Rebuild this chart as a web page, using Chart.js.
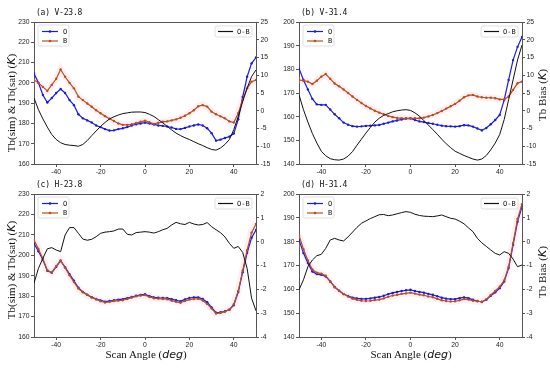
<!DOCTYPE html>
<html>
<head>
<meta charset="utf-8">
<script src="https://cdn.jsdelivr.net/npm/chart.js@4.4.1/dist/chart.umd.min.js"></script>
<style>
  html, body { margin:0; padding:0; background:#fff; }
  #wrap { position:relative; width:550px; height:369px; overflow:hidden; background:#fff; }
  canvas { position:absolute; }
  .ptitle { position:absolute; font-family:'DejaVu Sans Mono', monospace; font-size:8px; color:#111; white-space:nowrap; letter-spacing:-0.2px; }
  .yt { position:absolute; font-family:'Liberation Serif', serif; font-size:11px; color:#111; white-space:nowrap; transform:translate(-50%,-50%) rotate(-90deg); }
  .xt { position:absolute; font-family:'Liberation Serif', serif; font-size:11px; color:#111; white-space:nowrap; transform:translate(-50%,-50%); }
  .m { font-family:'DejaVu Sans', sans-serif; font-style:italic; }
</style>
</head>
<body>
<div id="wrap">
  <canvas id="ca" width="275" height="183" style="left:0px;top:0px"></canvas>
  <canvas id="cb" width="275" height="183" style="left:275px;top:0px"></canvas>
  <canvas id="cc" width="275" height="184" style="left:0px;top:185px"></canvas>
  <canvas id="cd" width="275" height="184" style="left:275px;top:185px"></canvas>
  <div class="ptitle" style="left:36px;top:8px">(a) V-23.8</div>
  <div class="ptitle" style="left:301px;top:8px">(b) V-31.4</div>
  <div class="ptitle" style="left:36px;top:180px">(c) H-23.8</div>
  <div class="ptitle" style="left:301px;top:180px">(d) H-31.4</div>
  <div class="yt" style="left:11px;top:103px">Tb(sim) &amp; Tb(sat) (<span class="m">K</span>)</div>
  <div class="yt" style="left:11px;top:270px">Tb(sim) &amp; Tb(sat) (<span class="m">K</span>)</div>
  <div class="yt" style="left:542px;top:95px">Tb Bias (<span class="m">K</span>)</div>
  <div class="yt" style="left:542px;top:272px">Tb Bias (<span class="m">K</span>)</div>
  <div class="xt" style="left:146px;top:354px">Scan Angle (<span class="m">deg</span>)</div>
  <div class="xt" style="left:411px;top:354px">Scan Angle (<span class="m">deg</span>)</div>
</div>
<script>
// ---------------- DATA ----------------
const ANGLES = [-50,-48,-46,-44,-42,-40,-38,-36,-34,-32,-30,-28,-26,-24,-22,-20,-18,-16,-14,-12,-10,-8,-6,-4,-2,0,2,4,6,8,10,12,14,16,18,20,22,24,26,28,30,32,34,36,38,40,42,44,46,48,50];
const X_TICKS = [-40,-20,0,20,40];

// (a) V-23.8
const A_O  = [204.6,200,194,190.3,192.5,195,197,195,191.5,189,184.5,182.5,181.5,180.5,179,178.2,177.2,176.5,176.6,177.2,177.6,178.2,179,179.6,180,180.4,180,179.5,179,178.8,178.5,178,177.3,177.2,177.8,178.5,179,179.5,179,177.6,175.2,171.5,172,172.8,173.5,175,182,193,203,209.6,212.5];
const A_B  = [201.4,200,198,196,199,202,206.6,203,200,197.3,193.2,191.5,189.8,188.2,186.5,185,183.6,182.3,181.2,180,179.3,179.3,179.6,180.2,180.8,181.4,180.6,179.8,180.3,180.8,181,181.5,182,182.8,183.8,185,186.5,188.5,189,188.3,185.8,184.5,183.5,182.5,181,180.4,185,191.6,197.3,200.6,201.4];
const A_OB = [3.6,0.3,-2.3,-4.6,-6.7,-8.1,-9,-9.5,-9.7,-9.8,-10,-9.5,-8.4,-7,-5.7,-4.4,-3.3,-2.3,-1.7,-1.2,-0.8,-0.6,-0.4,-0.35,-0.35,-0.5,-1,-1.6,-2.5,-3.4,-4.4,-5.4,-6.3,-7,-7.6,-8.1,-8.7,-9.3,-9.8,-10.4,-10.9,-11.1,-10.5,-9.5,-8.1,-5.3,-1.6,2.6,6.4,9.6,11.5];

// (b) V-31.4
const B_O  = [180.4,175.5,171.5,167.5,165.2,165,165,163,161,159.3,157.5,156.6,156,155.8,155.9,156.1,156.2,156.3,156.5,157,157.5,158,158.4,158.8,159.2,159.3,158.6,158,157.7,157.3,157,156.6,156.2,156,155.9,155.8,156,156.4,156.3,155.8,155,154.2,155.2,156.8,158.6,160.7,167,175.5,183.9,189.5,193.7];
const B_B  = [175.5,175.2,174.8,173.8,175.2,176.9,178,176,174,172.8,171.5,170,168.5,167.1,165.8,164.5,163.5,162.5,161.7,161,160.3,159.8,159.5,159.3,159.3,159.3,159.3,159.3,159.6,160.1,160.7,161.5,162.4,163.4,164.4,165.4,166.7,168.2,169,169.2,168.5,168.2,168,168,167.8,167.3,167.3,168.5,171.3,174.1,174.8];
const B_OB = [4.5,0.3,-3.2,-6.4,-9.1,-11.4,-12.7,-13.5,-13.8,-13.9,-13.6,-12.8,-11.5,-9.7,-8,-6.3,-4.7,-3.2,-2.1,-1.3,-0.8,-0.3,0,0.2,0.3,0.1,-0.6,-1.5,-2.8,-4,-5.3,-6.6,-8,-9.3,-10.4,-11.4,-12,-12.6,-13.1,-13.6,-13.9,-13.6,-12.6,-11,-9.1,-6.7,-2.5,3.1,8.7,14.3,18.5];

// (c) H-23.8
const C_O  = [205.8,202,197.8,192.4,191.4,194.4,197.2,194.2,190.8,187.5,184.1,182.1,180.7,179.5,178.6,177.9,177.3,177.6,178,178.3,178.5,179,179.6,180.2,180.6,180.9,180,179.4,179.2,179.1,179,178.5,178,177.5,178.4,179.1,179.4,179.4,178.6,177,174.5,171.9,172.1,172.6,173.4,175.6,182,191.7,201.2,208.6,212.4];
const C_B  = [207.5,203.1,198.3,192.7,191.6,194.7,197.5,193.9,190.2,186.9,183.7,181.9,180.6,179.3,178.4,177.5,176.9,177.2,177.6,177.8,178,178.6,179.3,179.9,180.3,180.5,179.6,179,178.8,178.6,178.5,177.8,177.2,176.8,177.6,178.3,178.6,178.7,177.9,176.2,173.9,171.5,171.8,172.4,173.4,176,182.5,192.5,202.5,211,215.3];
const C_OB = [-1.74,-1.12,-0.7,-0.3,-0.25,-0.35,-0.42,0.28,0.59,0.59,0.35,0.11,0.06,0.1,0.21,0.35,0.4,0.42,0.45,0.53,0.53,0.31,0.28,0.38,0.4,0.42,0.4,0.36,0.42,0.5,0.56,0.7,0.81,0.75,0.72,0.81,0.74,0.7,0.72,0.8,0.63,0.5,0.38,0.2,-0.07,-0.28,-0.2,-0.45,-1.12,-2.37,-2.9];

// (d) H-31.4
const D_O  = [180.7,175.2,171,167.5,166.4,166.1,165.4,163.3,161,159.4,158,157.2,156.5,156.2,156,156,156.2,156.5,156.8,157.3,158,158.5,158.9,159.3,159.6,159.8,159.3,158.9,158.6,158.1,157.7,157.1,156.5,156.1,155.9,155.9,156.3,156.6,156.3,155.6,155.1,154.7,155.6,157.3,158.8,160.5,163.3,168.9,178.7,188.4,194.7];
const D_B  = [182.7,176.8,172.1,168.3,167,166.6,165.7,163.2,160.9,159.3,158,157,156.1,155.6,155.2,155.1,155.2,155.5,155.7,156.2,156.9,157.4,157.7,158.1,158.3,158.6,158.2,157.8,157.5,157,156.7,156,155.4,155.1,154.9,155,155.4,155.9,155.7,155.2,155,154.8,155.8,157.6,159.3,161.1,163.7,169.4,179.4,189.5,195.7];
const D_OB = [-2.02,-1.6,-1.05,-0.77,-0.59,-0.53,-0.28,0.07,0.14,0.07,0.03,0.2,0.4,0.6,0.77,0.87,0.97,1.05,1.13,1.14,1.09,1.12,1.17,1.22,1.26,1.23,1.15,1.1,1.07,1.06,1.05,1.08,1.12,1.05,0.98,0.95,0.86,0.75,0.58,0.42,0.14,-0.05,-0.2,-0.35,-0.49,-0.56,-0.42,-0.49,-0.73,-1.05,-0.98];

const SERIES_LABELS = ['O', 'B', 'O-B'];

// ---------------- STYLE ----------------
const COL_O = '#1a1ae6';
const COL_B = '#b4521e';
const COL_OB = '#111111';
const AXC = '#555555';
const TICK_FONT = { family: 'Liberation Sans', size: 6.8 };

function pts(arr) { return ANGLES.map((x, i) => ({ x: x, y: arr[i] })); }

const framePlugin = {
  id: 'frame',
  afterDraw(chart) {
    const ca = chart.chartArea, ctx = chart.ctx;
    ctx.save();
    ctx.strokeStyle = AXC; ctx.lineWidth = 1;
    ctx.beginPath();
    ctx.moveTo(Math.round(ca.left) - 0.5, Math.round(ca.top) + 0.5);
    ctx.lineTo(Math.round(ca.right) + 0.5, Math.round(ca.top) + 0.5);
    ctx.stroke();
    function box(x, y, w, h) {
      ctx.beginPath();
      if (ctx.roundRect) ctx.roundRect(x, y, w, h, 2); else ctx.rect(x, y, w, h);
      ctx.fillStyle = 'rgba(255,255,255,0.85)'; ctx.fill();
      ctx.strokeStyle = '#d8d8d8'; ctx.lineWidth = 0.8; ctx.stroke();
    }
    ctx.font = '7px "DejaVu Sans Mono"';
    ctx.textBaseline = 'middle';
    const lx = ca.left + 4, ly = ca.top + 3;
    box(lx, ly, 31, 21);
    [[COL_O, SERIES_LABELS[0], ly + 6.5], [COL_B, SERIES_LABELS[1], ly + 16]].forEach(([c, t, yy]) => {
      ctx.strokeStyle = c; ctx.lineWidth = 1.2;
      ctx.beginPath(); ctx.moveTo(lx + 4, yy); ctx.lineTo(lx + 20, yy); ctx.stroke();
      ctx.fillStyle = c; ctx.beginPath(); ctx.arc(lx + 12, yy, 1.3, 0, Math.PI * 2); ctx.fill();
      ctx.fillStyle = '#111'; ctx.fillText(t, lx + 25, yy + 0.5);
    });
    const rx = ca.right - 41, ry = ca.top + 4;
    box(rx, ry, 37, 11);
    ctx.strokeStyle = COL_OB; ctx.lineWidth = 1.2;
    ctx.beginPath(); ctx.moveTo(rx + 3, ry + 5.5); ctx.lineTo(rx + 18, ry + 5.5); ctx.stroke();
    ctx.fillStyle = '#111'; ctx.fillText(SERIES_LABELS[2], rx + 22, ry + 6);
    ctx.restore();
  }
};

function makePanel(id, O, B, OB, cfg) {
  const axisCommon = {
    grid: { display: true, drawOnChartArea: false, drawTicks: true, tickLength: 3, color: AXC, lineWidth: 1 },
    border: { display: true, color: AXC, width: 1 },
    ticks: { font: TICK_FONT, color: '#222', padding: 1.5 }
  };
  new Chart(document.getElementById(id), {
    type: 'line',
    data: {
      datasets: [
        { label: SERIES_LABELS[2], data: pts(OB), yAxisID: 'y2', borderColor: COL_OB, borderWidth: 1, pointRadius: 0, tension: 0, order: 0 },
        { label: SERIES_LABELS[1], data: pts(B), yAxisID: 'y', borderColor: COL_B, backgroundColor: COL_B, borderWidth: 1.2, pointRadius: 1.2, pointBorderWidth: 0, tension: 0, order: 1 },
        { label: SERIES_LABELS[0], data: pts(O), yAxisID: 'y', borderColor: COL_O, backgroundColor: COL_O, borderWidth: 1.2, pointRadius: 1.2, pointBorderWidth: 0, tension: 0, order: 2 },
        { label: 'band', data: pts(B), yAxisID: 'y', borderColor: 'rgba(255,185,215,0.22)', borderWidth: 7, pointRadius: 0, tension: 0, order: 3 }
      ]
    },
    options: {
      responsive: false, animation: false, devicePixelRatio: 1,
      layout: { padding: { top: cfg.padTop, left: 0, right: 0, bottom: 0 } },
      plugins: { legend: { display: false }, tooltip: { enabled: false } },
      scales: {
        x: Object.assign({}, axisCommon, {
          type: 'linear', min: -50, max: 50,
          afterBuildTicks: s => { s.ticks = X_TICKS.map(v => ({ value: v })); },
          afterFit: s => { s.height = cfg.xH; },
          ticks: Object.assign({}, axisCommon.ticks, { maxRotation: 0, autoSkip: false })
        }),
        y: Object.assign({}, axisCommon, {
          position: 'left', min: cfg.yMin, max: cfg.yMax,
          afterFit: s => { s.width = cfg.leftW; },
          ticks: Object.assign({}, axisCommon.ticks, { stepSize: cfg.yStep })
        }),
        y2: Object.assign({}, axisCommon, {
          position: 'right', min: cfg.y2Min, max: cfg.y2Max,
          afterFit: s => { s.width = cfg.rightW; },
          ticks: Object.assign({}, axisCommon.ticks, { stepSize: cfg.y2Step })
        })
      }
    },
    plugins: [framePlugin]
  });
}

makePanel('ca', A_O, A_B, A_OB, { padTop: 22, xH: 19, leftW: 34, rightW: 19, yMin: 160, yMax: 230, yStep: 10, y2Min: -15, y2Max: 25, y2Step: 5 });
makePanel('cb', B_O, B_B, B_OB, { padTop: 22, xH: 19, leftW: 24, rightW: 28, yMin: 140, yMax: 200, yStep: 10, y2Min: -15, y2Max: 25, y2Step: 5 });
makePanel('cc', C_O, C_B, C_OB, { padTop: 9, xH: 32, leftW: 34, rightW: 19, yMin: 160, yMax: 230, yStep: 10, y2Min: -4, y2Max: 2, y2Step: 1 });
makePanel('cd', D_O, D_B, D_OB, { padTop: 9, xH: 32, leftW: 24, rightW: 28, yMin: 140, yMax: 200, yStep: 10, y2Min: -4, y2Max: 2, y2Step: 1 });
</script>
</body>
</html>
